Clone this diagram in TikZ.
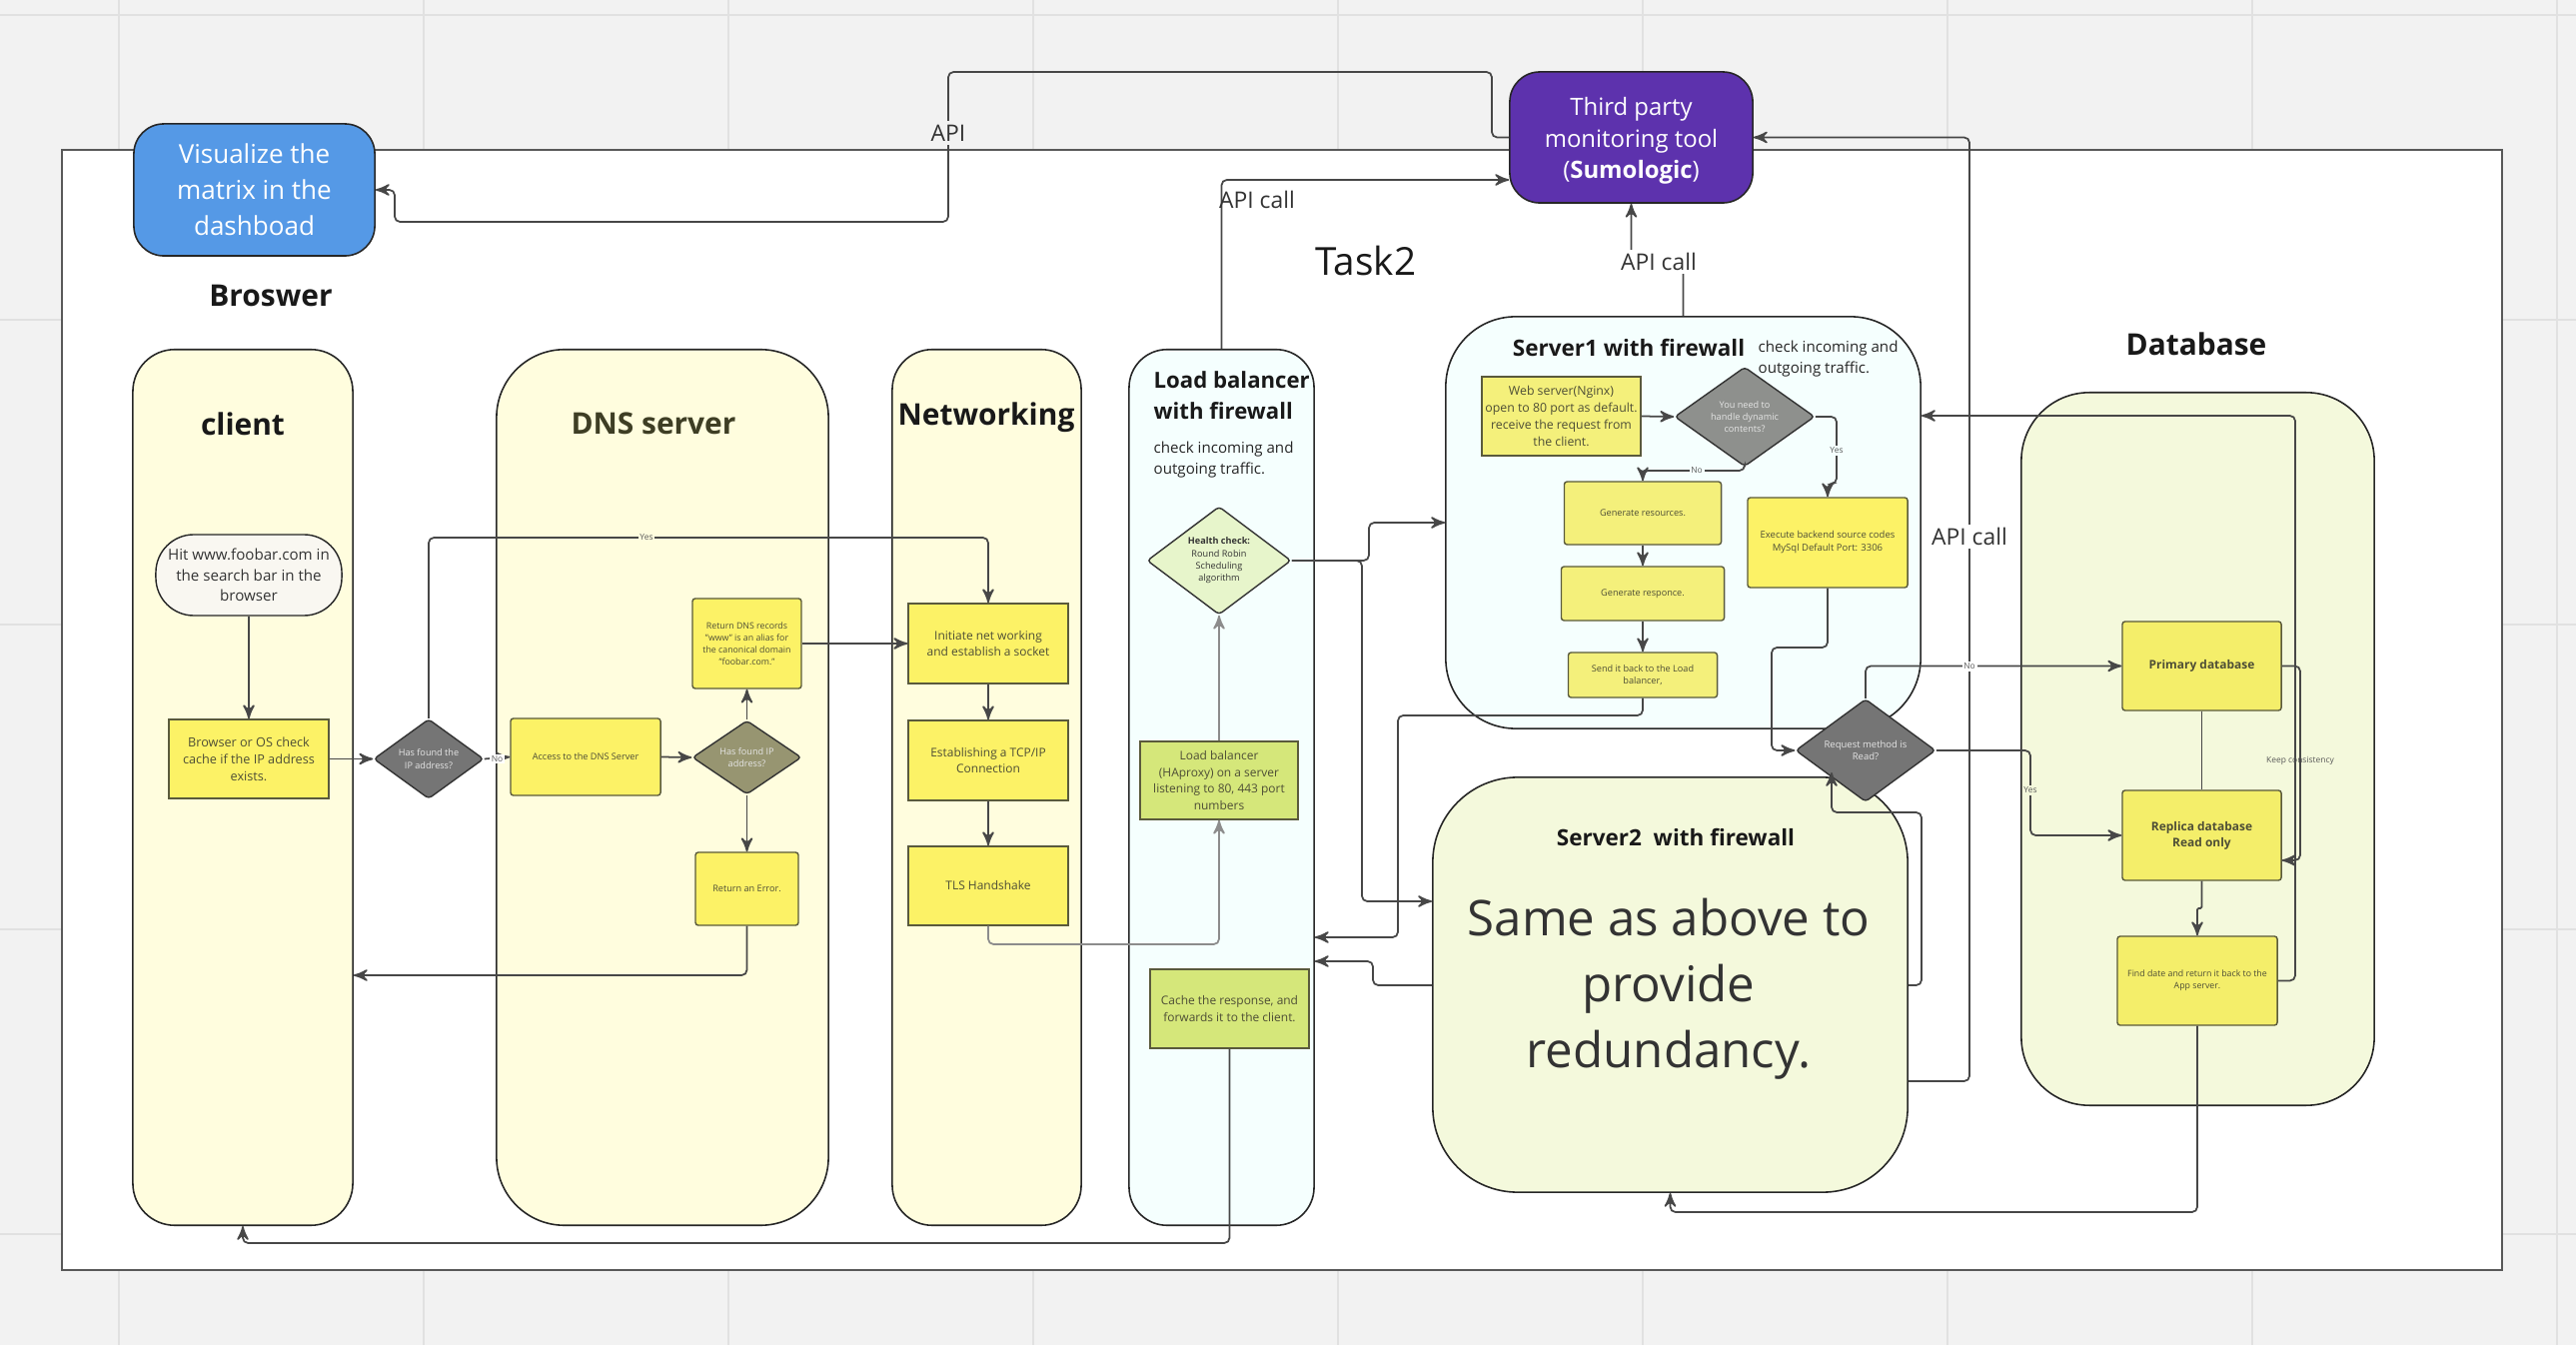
\documentclass[tikz,border=0pt]{standalone}
\usepackage{fontspec}
\setmainfont{Open Sans}
\usepackage{tikz}
\usetikzlibrary{arrows,shapes.geometric}

\definecolor{gridbg}{HTML}{F2F2F2}
\definecolor{gridline}{HTML}{E1E1E1}
\definecolor{lanecream}{HTML}{FFFDDE}
\definecolor{lanecyan}{HTML}{F5FFFE}
\definecolor{lanelime}{HTML}{F4F9DC}
\definecolor{boxyellow}{HTML}{FCF266}
\definecolor{softyellow}{HTML}{F4F07B}
\definecolor{dbyellow}{HTML}{F4EE6A}
\definecolor{boxgreen}{HTML}{D5E77A}
\definecolor{healthgreen}{HTML}{E7F5CB}
\definecolor{hitwhite}{HTML}{F9F7F1}
\definecolor{decgray}{HTML}{757575}
\definecolor{dyngray}{HTML}{8E908D}
\definecolor{dnsolive}{HTML}{979571}
\definecolor{visblue}{HTML}{5599E6}
\definecolor{toolpurple}{HTML}{5D32AD}
\definecolor{inktext}{HTML}{4E4E36}
\definecolor{boxedge}{HTML}{5A5A3C}
\definecolor{dnstitle}{HTML}{3E3E24}
\definecolor{wirecol}{HTML}{474747}

\begin{document}
\begin{tikzpicture}[x=0.01cm,y=-0.01cm,>=stealth',
    lane/.style={draw=black!85,line width=0.45pt,inner sep=0pt},
    flowbox/.style={draw=boxedge,line width=0.4pt,fill=boxyellow,rounded corners=0.8pt,
      inner sep=1pt,align=center,text=inktext,font=\fontsize{2.6}{3.5}\selectfont},
    decision/.style={diamond,draw=black!80,line width=0.4pt,inner sep=0pt,
      rounded corners=1pt,align=center,text=white!90!black,font=\fontsize{2.6}{3.5}\selectfont},
    wire/.style={draw=wirecol,line width=0.5pt,rounded corners=1.5pt},
    wirearrow/.style={wire,->},
    edgelabel/.style={inner sep=0.5pt,text=black!65,font=\fontsize{2.4}{3}\selectfont},
    apilabel/.style={inner sep=1pt,text=black!80,font=\fontsize{6.5}{8}\selectfont},
    lanetitle/.style={text=black!90,font=\bfseries\fontsize{8.5}{10}\selectfont}]

  \useasboundingbox (0,0) rectangle (2578,1346);
  \fill[gridbg] (0,0) rectangle (2578,1346);
  \foreach \gx in {119,424,...,2559}
    \draw[gridline,line width=0.65pt] (\gx,0) -- (\gx,1346);
  \foreach \gy in {15,320,...,1235}
    \draw[gridline,line width=0.65pt] (0,\gy) -- (2578,\gy);
  \draw[draw=black!65,line width=0.7pt,fill=white] (62,150) rectangle (2504,1271);

  % lanes
  \node[lane,fill=lanecream,rounded corners=0.42cm,minimum width=2.2cm,minimum height=8.76cm] (cli) at (243,788) {};
  \node[lane,fill=lanecream,rounded corners=0.68cm,minimum width=3.32cm,minimum height=8.76cm] (dnsl) at (663,788) {};
  \node[lane,fill=lanecream,rounded corners=0.4cm,minimum width=1.89cm,minimum height=8.76cm] (net) at (987.5,788) {};
  \node[lane,fill=lanecyan,rounded corners=0.38cm,minimum width=1.85cm,minimum height=8.76cm] (lb) at (1222.5,788) {};
  \node[lane,fill=lanecyan,rounded corners=0.7cm,minimum width=4.75cm,minimum height=4.12cm] (srv1) at (1684.5,523) {};
  \node[lane,fill=lanelime,rounded corners=0.85cm,minimum width=4.75cm,minimum height=4.15cm] (srv2) at (1671.5,985.5) {};
  \node[lane,fill=lanelime,rounded corners=0.68cm,minimum width=3.53cm,minimum height=7.13cm] (db) at (2199.5,749.5) {};

  \node[draw=black!85,line width=0.45pt,fill=visblue,rounded corners=0.3cm,minimum width=2.41cm,
    minimum height=1.32cm,align=center,text=white,font=\fontsize{7.4}{10.2}\selectfont] (vis) at (254.5,190)
    {Visualize the\\matrix in the\\dashboad};
  \node[draw=black!85,line width=0.45pt,fill=toolpurple,rounded corners=0.3cm,minimum width=2.43cm,
    minimum height=1.31cm,align=center,text=white,font=\fontsize{6.8}{9}\selectfont] (tool) at (1632.5,137.5) {};
  \node[align=center,text=white,font=\fontsize{6.8}{9}\selectfont] (toolT) at (1632.5,141)
    {Third party\\monitoring tool\\(\textbf{Sumologic})};

  % titles
  \node[lanetitle] (brosT) at (271,296) {Broswer};
  \node[lanetitle] (cliT) at (243,424) {client};
  \node[lanetitle,text=dnstitle] (dnsT) at (654,424) {DNS server};
  \node[lanetitle] (netT) at (987,418) {Networking};
  \node[lanetitle] (dbT) at (2198,344) {Database};
  \node[text=black!90,font=\fontsize{11}{13}\selectfont] (task) at (1367,261) {Task2};
  \node[anchor=west,align=left,inner sep=0pt,text=black!90,font=\bfseries\fontsize{6.3}{8.8}\selectfont] (lbT)
    at (1154,396) {Load balancer\\with firewall};
  \node[anchor=west,align=left,inner sep=0pt,text=black!85,font=\fontsize{4.3}{5.9}\selectfont] (lbC)
    at (1154,460) {check incoming and\\outgoing traffic.};
  \node[text=black!90,font=\bfseries\fontsize{6.4}{8}\selectfont] (s1T) at (1630,348) {Server1 with firewall};
  \node[anchor=west,align=left,inner sep=0pt,text=black!85,font=\fontsize{4.3}{6}\selectfont] (s1C)
    at (1759,359) {check incoming and\\outgoing traffic.};
  \node[text=black!90,font=\bfseries\fontsize{6.4}{8}\selectfont] (s2T) at (1677,838) {Server2\ \ with firewall};
  \node[align=center,text=black!80,font=\fontsize{14}{18.8}\selectfont] (s2B) at (1670,990)
    {Same as above to\\provide\\redundancy.};

  % client and dns
  \node[flowbox,fill=hitwhite,draw=black!85,rounded corners=0.38cm,minimum width=1.86cm,minimum height=0.81cm,
    text=black!80,font=\fontsize{4.3}{5.8}\selectfont] (hit) at (249,575.5)
    {Hit www.foobar.com in\\the search bar in the\\browser};
  \node[flowbox,rounded corners=0pt,minimum width=1.6cm,minimum height=0.79cm,font=\fontsize{3.6}{4.8}\selectfont]
    (chk) at (249,759.5) {Browser or OS check\\cache if the IP address\\exists.};
  \node[decision,fill=decgray,minimum width=1.1cm,minimum height=0.73cm] (found) at (429,759.5)
    {Has found the\\IP address?};
  \node[flowbox,minimum width=1.5cm,minimum height=0.77cm] (acc) at (586,757.5) {Access to the DNS Server};
  \node[decision,fill=dnsolive,minimum width=1.09cm,minimum height=0.72cm] (dnsfound) at (747.5,758)
    {Has found IP\\address?};
  \node[flowbox,minimum width=1.09cm,minimum height=0.9cm,font=\fontsize{2.5}{3.4}\selectfont] (rec) at (747.5,644)
    {Return DNS records\\"www" is an alias for\\the canonical domain\\"foobar.com."};
  \node[flowbox,minimum width=1.03cm,minimum height=0.73cm] (err) at (747.5,889.5) {Return an Error.};

  % networking and load balancer
  \node[flowbox,rounded corners=0pt,minimum width=1.6cm,minimum height=0.8cm,font=\fontsize{3.4}{4.7}\selectfont]
    (sock) at (989,644) {Initiate net working\\and establish a socket};
  \node[flowbox,rounded corners=0pt,minimum width=1.6cm,minimum height=0.8cm,font=\fontsize{3.4}{4.7}\selectfont]
    (tcp) at (989,761) {Establishing a TCP/IP\\Connection};
  \node[flowbox,rounded corners=0pt,minimum width=1.6cm,minimum height=0.79cm,font=\fontsize{3.4}{4.7}\selectfont]
    (tls) at (989,886.5) {TLS Handshake};
  \node[decision,fill=healthgreen,text=black!80,minimum width=1.44cm,minimum height=0.86cm] (health) at (1220,561)
    {\textbf{Health check:}\\Round Robin\\Scheduling\\algorithm};
  \node[flowbox,fill=boxgreen,rounded corners=0pt,minimum width=1.58cm,minimum height=0.78cm,
    font=\fontsize{3.4}{4.8}\selectfont] (hap) at (1220,781)
    {Load balancer\\(HAproxy) on a server\\listening to 80, 443 port\\numbers};
  \node[flowbox,fill=boxgreen,rounded corners=0pt,minimum width=1.59cm,minimum height=0.79cm,
    font=\fontsize{3.4}{4.8}\selectfont] (cache) at (1230.5,1009.5)
    {Cache the response, and\\forwards it to the client.};

  % server1
  \node[flowbox,fill=softyellow,rounded corners=0pt,minimum width=1.59cm,minimum height=0.79cm,
    font=\fontsize{3.5}{4.8}\selectfont] (nginx) at (1562.5,416.5)
    {Web server(Nginx)\\open to 80 port as default.\\receive the request from\\the client.};
  \node[decision,fill=dyngray,minimum width=1.4cm,minimum height=0.84cm] (dyn) at (1746,417)
    {You need to\\handle dynamic\\contents?};
  \node[flowbox,fill=softyellow,minimum width=1.57cm,minimum height=0.63cm] (gres) at (1644,513.5) {Generate resources.};
  \node[flowbox,fill=softyellow,minimum width=1.63cm,minimum height=0.54cm] (gresp) at (1644,594) {Generate responce.};
  \node[flowbox,fill=softyellow,minimum width=1.49cm,minimum height=0.45cm] (back) at (1644,675.5)
    {Send it back to the Load\\balancer,};
  \node[flowbox,minimum width=1.6cm,minimum height=0.9cm,font=\fontsize{2.7}{3.7}\selectfont] (exec) at (1829,543)
    {Execute backend source codes\\MySql Default Port: 3306};
  \node[decision,fill=decgray,minimum width=1.4cm,minimum height=0.84cm,font=\fontsize{2.7}{3.6}\selectfont]
    (read) at (1867,751) {Request method is\\Read?};

  % database
  \node[flowbox,fill=dbyellow,minimum width=1.59cm,minimum height=0.89cm,font=\bfseries\fontsize{3.4}{4.6}\selectfont]
    (prim) at (2203.5,666.5) {Primary database};
  \node[flowbox,fill=dbyellow,minimum width=1.59cm,minimum height=0.9cm,font=\bfseries\fontsize{3.4}{4.6}\selectfont]
    (repl) at (2203.5,836) {Replica database\\Read only};
  \node[flowbox,fill=dbyellow,minimum width=1.6cm,minimum height=0.89cm,font=\fontsize{2.5}{3.4}\selectfont]
    (find) at (2199,981.5) {Find date and return it back to the\\App server.};

  % api connectors
  \draw[wirearrow] (tool.west) -| (1493,72) -| (949,222) -| (395,190) -- (vis.east);
  \draw[wirearrow] (lb.north) |- (tool.west |- 0,180);
  \draw[wirearrow] (srv1.north) |- (1632.5,262) -- (tool.south);
  \draw[wirearrow] (srv2.east |- 0,1082) -| (1971,137.5) -- (tool.east);
  \node[apilabel,fill=gridbg] at (949,133) {API};
  \node[apilabel] at (1258,200) {API call};
  \node[apilabel,fill=white] at (1660,262) {API call};
  \node[apilabel,fill=white] at (1971,537) {API call};

  % client and dns connectors
  \draw[wirearrow] (hit.south) -- (chk.north);
  \draw[wirearrow] (chk.east) -- (found.west);
  \draw[wirearrow] (found.north) |- (989,538) -- (sock.north);
  \draw[wirearrow] (found.east) -- (acc.west);
  \draw[wirearrow] (acc.east) -- (dnsfound.west);
  \draw[wirearrow] (dnsfound.north) -- (rec.south);
  \draw[wirearrow] (dnsfound.south) -- (err.north);
  \draw[wirearrow] (err.south) |- (cli.east |- 0,976);
  \draw[wirearrow] (rec.east) -- (sock.west);
  \node[edgelabel,fill=lanecream] at (647,538) {Yes};
  \node[edgelabel,fill=white] at (497.5,759.5) {No};

  % networking and load balancer connectors
  \draw[wirearrow] (sock.south) -- (tcp.north);
  \draw[wirearrow] (tcp.south) -- (tls.north);
  \draw[wirearrow,draw=black!45] (tls.south) |- (1220,945) -- (hap.south);
  \draw[wirearrow,draw=black!45] (hap.north) -- (health.south);
  \draw[wirearrow] (health.east) -| (1370,523) -- (srv1.west |- 0,523);
  \draw[wirearrow] (health.east) -| (1363,902) -- (srv2.west |- 0,902);
  \draw[wirearrow] (back.south) |- (1399,716) |- (lb.east |- 0,938);
  \draw[wirearrow] (srv2.west |- 0,986) -| (1374,962) -- (lb.east |- 0,962);
  \draw[wirearrow] (cache.south) |- (cli.south |- 0,1244) -- (cli.south);

  % server connectors
  \draw[wirearrow] (nginx.east) -- (dyn.west);
  \draw[wirearrow] (dyn.east) -| (1838,484) -| (exec.north);
  \draw[wirearrow] (dyn.south) |- (1644,471) -- (gres.north);
  \draw[wirearrow] (gres.south) -- (gresp.north);
  \draw[wirearrow] (gresp.south) -- (back.north);
  \draw[wirearrow] (exec.south) |- (1773,648) |- (read.west);
  \draw[wirearrow] (read.north) |- (prim.west);
  \draw[wirearrow] (read.east) -| (2032,836) -- (repl.west);
  \draw[wirearrow] (srv2.east |- 0,986) -| (1923,813) -| (1833,773);
  \node[edgelabel,fill=lanecyan] at (1838,451) {Yes};
  \node[edgelabel,fill=lanecyan] at (1698,471) {No};
  \node[edgelabel,fill=white] at (1971,667) {No};
  \node[edgelabel,fill=lanelime] at (2032,791) {Yes};

  % database connectors
  \draw[wire] (prim.south) -- (repl.north);
  \draw[wirearrow,rounded corners=0.4pt] (repl.south) |- (2199,909) -- (find.north);
  \draw[wirearrow] (find.south) |- (srv2.south |- 0,1213) -- (srv2.south);
  \draw[wirearrow] (find.east) -| (2297,416) -- (srv1.east |- 0,416);
  \draw[wirearrow] (prim.east) -| (2302,861) -- (repl.east |- 0,861);
  \node[edgelabel] at (2302,761) {Keep consistency};
\end{tikzpicture}
\end{document}
